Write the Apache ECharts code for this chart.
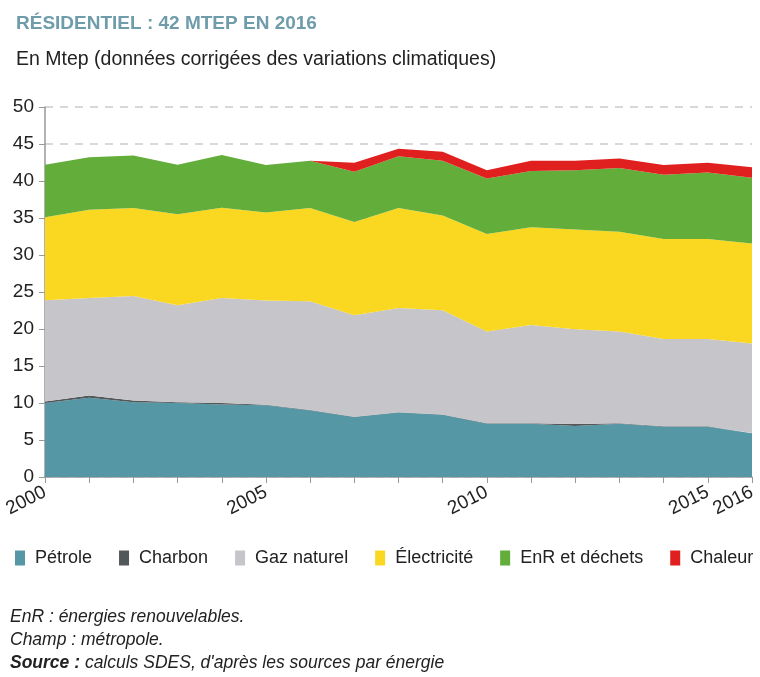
<!DOCTYPE html>
<html>
<head>
<meta charset="utf-8">
<script src="https://cdn.jsdelivr.net/npm/echarts@6/dist/echarts.min.js"></script>
<style>
  html, body { margin: 0; padding: 0; background: #fff; }
  #chart { width: 760px; height: 677px; }
</style>
</head>
<body>
<div id="chart"></div>
<script>
// années
const years = ["2000", "2001", "2002", "2003", "2004", "2005", "2006", "2007", "2008",
  "2009", "2010", "2011", "2012", "2013", "2014", "2015", "2016"];
const shownYears = ["2000", "2005", "2010", "2015", "2016"];

// consommation en Mtep
const petrole = [10.0, 10.7, 10.1, 10.0, 9.8, 9.7, 9.0, 8.1, 8.7, 8.4, 7.2, 7.2, 6.9, 7.2, 6.8, 6.8, 5.9];
const charbon = [0.2, 0.3, 0.25, 0.1, 0.2, 0.05, 0.05, 0.05, 0.05, 0.05, 0.05, 0.05, 0.25, 0.05, 0.05, 0.05, 0.05];
const gaz = [13.7, 13.2, 14.1, 13.1, 14.2, 14.1, 14.7, 13.7, 14.1, 14.1, 12.4, 13.3, 12.8, 12.4, 11.8, 11.8, 12.1];
const electricite = [11.2, 11.9, 11.9, 12.3, 12.2, 11.9, 12.6, 12.6, 13.5, 12.8, 13.2, 13.2, 13.5, 13.5, 13.5, 13.5, 13.5];
const enr = [7.1, 7.1, 7.1, 6.7, 7.1, 6.4, 6.4, 6.8, 7.0, 7.4, 7.5, 7.6, 8.0, 8.6, 8.7, 9.0, 8.9];
const chaleur = [0, 0, 0, 0, 0, 0, 0, 1.2, 1.0, 1.2, 1.1, 1.4, 1.3, 1.3, 1.3, 1.3, 1.4];

const seriesDefs = [
  { name: "Pétrole", data: petrole, color: "#5597a5" },
  { name: "Charbon", data: charbon, color: "#525759" },
  { name: "Gaz naturel", data: gaz, color: "#c6c6ca" },
  { name: "Électricité", data: electricite, color: "#fad821" },
  { name: "EnR et déchets", data: enr, color: "#63ad3a" },
  { name: "Chaleur", data: chaleur, color: "#e0201e" },
];

const font = "Liberation Sans";
const chart = echarts.init(document.getElementById("chart"));

chart.setOption({
  backgroundColor: "#fff",
  animation: false,
  textStyle: { fontFamily: font },
  title: [
    {
      text: "RÉSIDENTIEL : 42 MTEP EN 2016",
      left: 11, top: 9,
      textStyle: { fontFamily: font, fontSize: 19, fontWeight: "bold", color: "#6f9cab" },
    },
    {
      text: "En Mtep (données corrigées des variations climatiques)",
      left: 11, top: 45,
      textStyle: { fontFamily: font, fontSize: 19.5, fontWeight: "normal", color: "#222" },
    },
  ],
  legend: {
    left: 10, top: 544,
    itemWidth: 10, itemHeight: 15,
    itemGap: 27,
    icon: "rect",
    textStyle: { fontFamily: font, fontSize: 18, color: "#222", padding: [0, 0, 0, 5] },
    data: seriesDefs.map((s) => s.name),
  },
  grid: { left: 45, right: 8, top: 107, bottom: 200, containLabel: false },
  xAxis: {
    type: "category",
    data: years,
    boundaryGap: false,
    axisLine: { lineStyle: { color: "#999", width: 1.5 } },
    axisTick: { show: true, interval: 0, length: 6, lineStyle: { color: "#999" } },
    axisLabel: {
      interval: (i, v) => shownYears.includes(v),
      rotate: 27,
      fontSize: 19,
      color: "#222",
      margin: 14,
    },
  },
  yAxis: {
    type: "value",
    min: 0, max: 50, interval: 5,
    axisLine: { show: true, lineStyle: { color: "#999", width: 1.5 } },
    axisTick: { show: true, length: 6, lineStyle: { color: "#999" } },
    axisLabel: { fontSize: 19, color: "#222", margin: 11 },
    splitLine: { show: true, lineStyle: { color: "#ccc", type: [8, 7], width: 1.5 } },
  },
  series: seriesDefs.map((s) => ({
    name: s.name,
    type: "line",
    stack: "total",
    data: s.data,
    symbol: "none",
    lineStyle: { width: 0 },
    itemStyle: { color: s.color },
    areaStyle: { color: s.color, opacity: 1 },
  })),
  graphic: [
    {
      type: "text", left: 10, top: 608,
      style: { text: "EnR : énergies renouvelables.", font: "italic 17.5px 'Liberation Sans'", fill: "#222" },
    },
    {
      type: "text", left: 10, top: 631,
      style: { text: "Champ : métropole.", font: "italic 17.5px 'Liberation Sans'", fill: "#222" },
    },
    {
      type: "text", left: 10, top: 654,
      style: {
        text: "{b|Source :} calculs SDES, d'après les sources par énergie",
        font: "italic 17.5px 'Liberation Sans'", fill: "#222",
        rich: { b: { font: "italic bold 17.5px 'Liberation Sans'", fill: "#222" } },
      },
    },
  ],
});
</script>
</body>
</html>
